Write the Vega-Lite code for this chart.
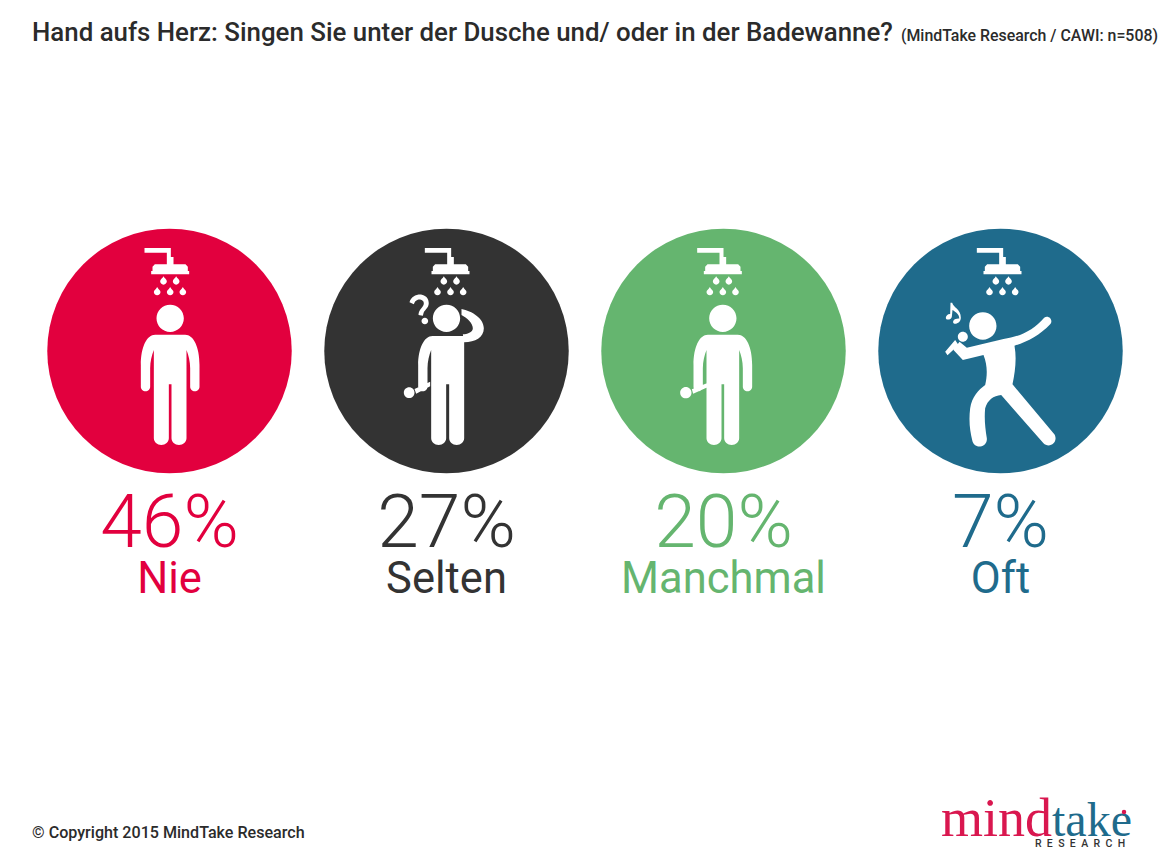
{"$schema":"https://vega.github.io/schema/vega-lite/v6.json","autosize":{"type":"fit","contains":"padding"},"width":1171,"height":860,"padding":0,"background":"white","config":{"view":{"stroke":null},"axis":{"domain":false}},"datasets":{"antworten":[{"antwort":"Nie","anteil":0.46},{"antwort":"Selten","anteil":0.27},{"antwort":"Manchmal","anteil":0.20},{"antwort":"Oft","anteil":0.07}]},"resolve":{"scale":{"x":"independent","y":"independent"}},"layer":[{"data":{"name":"antworten"},"encoding":{"x":{"field":"antwort","type":"nominal","axis":null,"scale":{"type":"point","padding":0,"domain":["Nie","Selten","Manchmal","Oft"],"range":[169.5,1000.5]}},"y":{"datum":"Antworten","type":"nominal","axis":null,"scale":{"type":"point","padding":0,"domain":["Antworten"],"range":[351,351]}},"color":{"field":"antwort","type":"nominal","legend":null,"scale":{"domain":["Nie","Selten","Manchmal","Oft"],"range":["#E2003E","#333333","#65B56F","#1F6B8C"]}}},"layer":[{"mark":{"type":"circle","size":59780,"opacity":1,"strokeWidth":0}},{"mark":{"type":"point","filled":true,"size":0.4444,"opacity":1,"strokeWidth":0,"fill":"#ffffff"},"encoding":{"color":{"value":"#ffffff"},"shape":{"field":"antwort","type":"nominal","legend":null,"scale":{"domain":["Nie","Selten","Manchmal","Oft"],"range":["M-75,-309 h79 v27 h8 v22 h36 l7,7 v13 h4 v10 h-114 v-10 h4 v-13 l7,-7 h36 v-35 h-67 z m57,85 c3,7 10,9 10,15 a10,10 0 1 1 -20,0 c0,-6 7,-8 10,-15 z m38,0 c3,7 10,9 10,15 a10,10 0 1 1 -20,0 c0,-6 7,-8 10,-15 z m-57,32 c3,7 10,9 10,15 a10,10 0 1 1 -20,0 c0,-6 7,-8 10,-15 z m39,0 c3,7 10,9 10,15 a10,10 0 1 1 -20,0 c0,-6 7,-8 10,-15 z m38,0 c3,7 10,9 10,15 a10,10 0 1 1 -20,0 c0,-6 7,-8 10,-15 z M-39,-98 a41,41 0 1 1 82,0 a41,41 0 1 1 -82,0 z M-43,-49 h90 c25,0 43,36 43,91 v65 a14,14 0 0 1 -28,0 v-55 c0,-20 -5,-40 -11,-55 v265 a22.5,20 0 0 1 -45,0 v-162 h-8 v162 a22.5,20 0 0 1 -45,0 v-265 c-6,15 -11,35 -11,55 v55 a14,14 0 0 1 -28,0 v-65 c0,-55 18,-91 43,-91 z","M-65,-309 h79 v27 h8 v22 h36 l7,7 v13 h4 v10 h-114 v-10 h4 v-13 l7,-7 h36 v-35 h-67 z m57,85 c3,7 10,9 10,15 a10,10 0 1 1 -20,0 c0,-6 7,-8 10,-15 z m38,0 c3,7 10,9 10,15 a10,10 0 1 1 -20,0 c0,-6 7,-8 10,-15 z m-57,32 c3,7 10,9 10,15 a10,10 0 1 1 -20,0 c0,-6 7,-8 10,-15 z m39,0 c3,7 10,9 10,15 a10,10 0 1 1 -20,0 c0,-6 7,-8 10,-15 z m38,0 c3,7 10,9 10,15 a10,10 0 1 1 -20,0 c0,-6 7,-8 10,-15 z M-41,-98 a41,41 0 1 1 82,0 a41,41 0 1 1 -82,0 z M-42,-45 h95 v307 a22.5,20 0 0 1 -45,0 v-162 h-9 v162 a22.5,20 0 0 1 -45,0 v-265 c-6,15 -11,35 -11,55 v55 a14,14 0 0 1 -28,0 v-65 c0,-50 18,-87 43,-87 z M45,-126 C76,-120 112,-98 112,-68 C112,-40 86,-26 53,-26 L49,-50 C61,-50 79,-56 79,-68 C79,-83 61,-100 45,-108 Z M-111,-146 C-107,-163 -89,-171 -74,-169 C-57,-166 -51,-150 -54,-138 C-57,-126 -67,-122 -69,-113 L-71,-106 L-84,-108 C-84,-125 -68,-131 -68,-143 C-68,-153 -79,-156 -86,-154 C-92,-152 -96,-148 -98,-140 Z M-75,-90 a10,10 0 1 1 20,0 a10,10 0 1 1 -20,0 z M-128,125 a16,16 0 1 1 32,0 a16,16 0 1 1 -32,0 z M-96,114 L-49,92 L-49,106 L-91,128 z","M-79,-309 h79 v27 h8 v22 h36 l7,7 v13 h4 v10 h-114 v-10 h4 v-13 l7,-7 h36 v-35 h-67 z m57,85 c3,7 10,9 10,15 a10,10 0 1 1 -20,0 c0,-6 7,-8 10,-15 z m38,0 c3,7 10,9 10,15 a10,10 0 1 1 -20,0 c0,-6 7,-8 10,-15 z m-57,32 c3,7 10,9 10,15 a10,10 0 1 1 -20,0 c0,-6 7,-8 10,-15 z m39,0 c3,7 10,9 10,15 a10,10 0 1 1 -20,0 c0,-6 7,-8 10,-15 z m38,0 c3,7 10,9 10,15 a10,10 0 1 1 -20,0 c0,-6 7,-8 10,-15 z M-43,-98 a41,41 0 1 1 82,0 a41,41 0 1 1 -82,0 z M-47,-49 h90 c25,0 43,36 43,91 v65 a14,14 0 0 1 -28,0 v-55 c0,-20 -5,-40 -11,-55 v265 a22.5,20 0 0 1 -45,0 v-162 h-8 v162 a22.5,20 0 0 1 -45,0 v-265 c-6,15 -11,35 -11,55 v55 a14,14 0 0 1 -28,0 v-65 c0,-55 18,-91 43,-91 z M-130,125 a17,17 0 1 1 34,0 a17,17 0 1 1 -34,0 z M-95,115 L-48,96 L-48,109 L-91,128 z","M-71,-309 h79 v27 h8 v22 h36 l7,7 v13 h4 v10 h-114 v-10 h4 v-13 l7,-7 h36 v-35 h-67 z m57,85 c3,7 10,9 10,15 a10,10 0 1 1 -20,0 c0,-6 7,-8 10,-15 z m38,0 c3,7 10,9 10,15 a10,10 0 1 1 -20,0 c0,-6 7,-8 10,-15 z m-57,32 c3,7 10,9 10,15 a10,10 0 1 1 -20,0 c0,-6 7,-8 10,-15 z m39,0 c3,7 10,9 10,15 a10,10 0 1 1 -20,0 c0,-6 7,-8 10,-15 z m38,0 c3,7 10,9 10,15 a10,10 0 1 1 -20,0 c0,-6 7,-8 10,-15 z M-94,-75 a41,41 0 1 1 82,0 a41,41 0 1 1 -82,0 z M-128,-43 a15,15 0 1 1 30,0 a15,15 0 1 1 -30,0 z M-166,2 L-136,-33 L-126,-18 L-159,13 z M-101,-10 L9,-36 C59,-43 99,-63 131,-100 A13.5,13.5 0 0 1 149,-80 C119,-48 79,-26 42,-16 C49,22 44,62 36,100 L159,247 A21,21 0 0 1 129,277 L2,132 C-21,134 -39,147 -46,172 C-49,202 -46,232 -41,262 A21,21 0 0 1 -85,267 C-91,242 -96,212 -91,172 C-86,137 -66,117 -46,102 C-39,72 -39,42 -51,12 L-113,27 L-141,-3 L-123,-28 Z M-150,-145 L-145,-145 C-141,-130 -119,-126 -119,-100 C-119,-88 -129,-81 -138,-82 C-145,-83 -143,-93 -135,-96 C-129,-98 -126,-98 -124,-97 C-123,-110 -133,-116 -144,-123 L-146,-103 C-147,-95 -159,-92 -163,-96 C-167,-102 -159,-112 -151,-111 Z"]}}}},{"mark":{"type":"text","font":"Roboto","fontWeight":300,"fontSize":75,"baseline":"alphabetic","align":"center","dy":196},"encoding":{"text":{"field":"anteil","type":"quantitative","format":".0%"}}},{"mark":{"type":"text","font":"Roboto","fontWeight":400,"fontSize":43.5,"baseline":"alphabetic","align":"center","dy":242},"encoding":{"text":{"field":"antwort","type":"nominal"}}}]},{"encoding":{"x":{"field":"spalte","type":"nominal","axis":null,"scale":{"type":"point","padding":0,"domain":["links","rechts"],"range":[32,1158]}},"y":{"field":"zeile","type":"nominal","axis":null,"scale":{"type":"point","padding":0,"domain":["Kopf","Fuss"],"range":[41,838]}}},"layer":[{"data":{"values":[{"text":"Hand aufs Herz: Singen Sie unter der Dusche und/ oder in der Badewanne?","spalte":"links","zeile":"Kopf"}]},"mark":{"type":"text","font":"Roboto","fontWeight":500,"fontSize":25.85,"baseline":"alphabetic","align":"left","color":"#2b2b2b"},"encoding":{"text":{"field":"text","type":"nominal"}}},{"data":{"values":[{"text":"(MindTake Research / CAWI: n=508)","spalte":"rechts","zeile":"Kopf"}]},"mark":{"type":"text","font":"Roboto","fontWeight":500,"fontSize":15.9,"baseline":"alphabetic","align":"right","color":"#2b2b2b"},"encoding":{"text":{"field":"text","type":"nominal"}}},{"data":{"values":[{"text":"© Copyright 2015 MindTake Research","spalte":"links","zeile":"Fuss"}]},"mark":{"type":"text","font":"Roboto","fontWeight":500,"fontSize":16.1,"baseline":"alphabetic","align":"left","color":"#2b2b2b"},"encoding":{"text":{"field":"text","type":"nominal"}}},{"data":{"values":[{"text":"mind","spalte":"rechts","zeile":"Fuss"}]},"mark":{"type":"text","font":"Liberation Serif","fontSize":54,"baseline":"alphabetic","align":"right","dx":-106,"dy":-2,"color":"#D9174F"},"encoding":{"text":{"field":"text","type":"nominal"}}},{"data":{"values":[{"text":"take","spalte":"rechts","zeile":"Fuss"}]},"mark":{"type":"text","font":"Liberation Serif","fontSize":48,"baseline":"alphabetic","align":"left","dx":-106,"dy":-2,"color":"#1F6B8C"},"encoding":{"text":{"field":"text","type":"nominal"}}},{"data":{"values":[{"text":"R\u2002E\u2002S\u2002E\u2002A\u2002R\u2002C\u2002H","spalte":"rechts","zeile":"Fuss"}]},"mark":{"type":"text","font":"Roboto","fontWeight":500,"fontSize":10.5,"baseline":"alphabetic","align":"center","dx":-78,"dy":9,"color":"#333333"},"encoding":{"text":{"field":"text","type":"nominal"}}},{"data":{"values":[{"spalte":"rechts","zeile":"Fuss"}]},"mark":{"type":"circle","size":20,"opacity":1,"color":"#D9174F","xOffset":-34,"yOffset":-26}}]}]}
